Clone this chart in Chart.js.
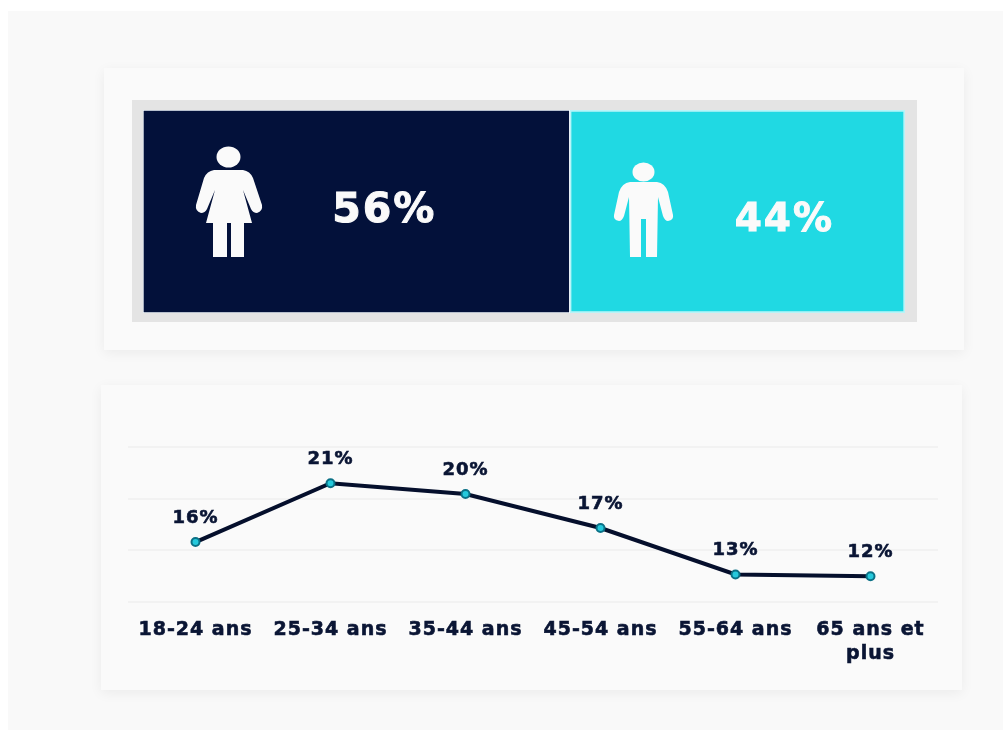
<!DOCTYPE html>
<html lang="fr">
<head>
<meta charset="utf-8">
<title>Répartition par sexe et par âge</title>
<script src="https://cdn.jsdelivr.net/npm/chart.js@4"></script>
<style>
html, body { margin: 0; padding: 0; background: #fff; }
body { position: relative; width: 1003px; height: 742px; overflow: hidden; }
#bg { position: absolute; left: 8px; top: 11px; width: 995px; height: 719px; background: #f9f9f9; }
.card { position: absolute; background: #fafafa; box-shadow: 0 3px 12px rgba(0,0,0,0.06); }
#card1 { left: 104px; top: 68px; width: 860px; height: 282px; }
#card2 { left: 101px; top: 385px; width: 861px; height: 305px; }
#frame { position: absolute; left: 132px; top: 100px; width: 785px; height: 222px; background: #e4e4e4; }
canvas { position: absolute; }
svg { position: absolute; }
</style>
</head>
<body>
<div id="bg"></div>
<div class="card" id="card1"></div>
<div class="card" id="card2"></div>
<div id="frame"></div>
<canvas id="genderChart" width="764" height="205" style="left:142px;top:109px"></canvas>
<canvas id="ageChart" width="861" height="305" style="left:101px;top:385px"></canvas>

<svg style="left:190px;top:140px" width="80" height="125" viewBox="0 0 80 125">
  <ellipse cx="38.5" cy="17" rx="12" ry="10.5" fill="#fafafa"/>
  <path d="M24 30 L53 30 Q60 31 63 38 L72 65 Q73 71 67 73 Q63 73 61 69 L53 50 L62 83 L54 83 L54 117 L41 117 L41 83 L37 83 L37 117 L23 117 L23 83 L16 83 L25 50 L17 69 Q15 73 11 73 Q5 71 6 65 L14 38 Q17 31 24 30 Z" fill="#fafafa"/>
</svg>
<svg style="left:610px;top:155px" width="70" height="110" viewBox="0 0 70 110">
  <ellipse cx="33.5" cy="17" rx="11" ry="9.5" fill="#fafafa"/>
  <path d="M20 27 L47 27 Q55 28 58 37 L63 60 Q64 65 58 66 Q55 66 53 61 L48 42 L47 102 L36 102 L36 64 L31 64 L31 102 L20 102 L19 42 L14 61 Q12 66 9 66 Q3 65 4 60 L9 37 Q12 28 20 27 Z" fill="#fafafa"/>
</svg>

<script>
const genderLabels = ['56%', '44%'];
const genderNames = ['Femmes', 'Hommes'];
const genderValues = [56, 44];

const ageLabels = ['18-24 ans', '25-34 ans', '35-44 ans', '45-54 ans', '55-64 ans', ['65 ans et', 'plus']];
const ageValues = [15.8, 21.49, 20.45, 17.16, 12.66, 12.49];
const ageValueLabels = ['16%', '21%', '20%', '17%', '13%', '12%'];

const fontName = '"DejaVu Sans", sans-serif';
const navy = '#03113a';
const textNavy = '#0a1534';
const cyan = '#20d9e3';

// text over the two bar parts, shifted from the centre of each part
const genderTextPlugin = {
    id: 'genderText',
    afterDatasetsDraw(chart) {
        const c = chart.ctx;
        const shift = [{x: 28, y: 0}, {x: 47, y: 9}];
        const size = [41, 39];
        chart.data.datasets.forEach((ds, i) => {
            const bar = chart.getDatasetMeta(i).data[0];
            const mid = (bar.base + bar.x) / 2;
            c.save();
            c.fillStyle = '#fafafa';
            c.strokeStyle = '#fafafa';
            c.lineWidth = 1;
            c.font = '700 ' + size[i] + 'px ' + fontName;
            c.letterSpacing = '2px';
            c.textAlign = 'center';
            c.textBaseline = 'middle';
            c.fillText(genderLabels[i], mid + shift[i].x, bar.y + shift[i].y);
            c.strokeText(genderLabels[i], mid + shift[i].x, bar.y + shift[i].y);
            c.restore();
        });
    }
};

const ageTextPlugin = {
    id: 'ageText',
    beforeDraw(chart) {
        // wider tick text, the font of the picture is not installed
        chart.ctx.letterSpacing = '1px';
    },
    afterDatasetsDraw(chart) {
        const c = chart.ctx;
        chart.getDatasetMeta(0).data.forEach((pt, i) => {
            c.save();
            c.fillStyle = textNavy;
            c.strokeStyle = textNavy;
            c.lineWidth = 0.6;
            c.font = '700 18px ' + fontName;
            c.letterSpacing = '1px';
            c.textAlign = 'center';
            c.textBaseline = 'middle';
            c.fillText(ageValueLabels[i], pt.x, pt.y - 24);
            c.strokeText(ageValueLabels[i], pt.x, pt.y - 24);
            c.restore();
        });
    }
};

new Chart(document.getElementById('genderChart'), {
    type: 'bar',
    plugins: [genderTextPlugin],
    data: {
        labels: [''],
        datasets: [
            {
                label: genderNames[0],
                data: [genderValues[0]],
                backgroundColor: navy,
                borderColor: '#f4fbff',
                borderWidth: 1,
                borderSkipped: false,
                categoryPercentage: 1,
                barPercentage: 1
            },
            {
                label: genderNames[1],
                data: [genderValues[1]],
                backgroundColor: cyan,
                borderColor: '#b8f4f8',
                borderWidth: 2,
                borderSkipped: false,
                categoryPercentage: 1,
                barPercentage: 1
            }
        ]
    },
    options: {
        indexAxis: 'y',
        responsive: false,
        animation: false,
        layout: { padding: 1 },
        plugins: { legend: { display: false }, tooltip: { enabled: false } },
        scales: {
            x: { stacked: true, display: false, min: 0, max: 100 },
            y: { stacked: true, display: false }
        }
    }
});

new Chart(document.getElementById('ageChart'), {
    type: 'line',
    plugins: [ageTextPlugin],
    data: {
        labels: ageLabels,
        datasets: [{
            label: 'Âge',
            data: ageValues,
            borderColor: '#050f2c',
            borderWidth: 4,
            tension: 0,
            pointRadius: 4,
            pointBorderWidth: 2,
            pointBackgroundColor: '#25c9dc',
            pointBorderColor: '#0b7186'
        }]
    },
    options: {
        responsive: false,
        animation: false,
        layout: { padding: { left: 27, right: 24, top: 62, bottom: 0 } },
        plugins: { legend: { display: false }, tooltip: { enabled: false } },
        scales: {
            x: {
                offset: true,
                grid: { display: false },
                border: { display: false },
                afterFit(scale) { scale.height = 88; },
                ticks: {
                    color: textNavy,
                    textStrokeColor: textNavy,
                    textStrokeWidth: 0.6,
                    font: { family: fontName, size: 19, weight: '700', lineHeight: 1.26 },
                    padding: 8,
                    autoSkip: false,
                    maxRotation: 0
                }
            },
            y: {
                min: 10,
                max: 25,
                afterFit(scale) { scale.width = 0; },
                grid: { color: '#f2f2f2', lineWidth: 2, drawTicks: false },
                border: { display: false },
                ticks: { display: false, stepSize: 5 }
            }
        }
    }
});
</script>
</body>
</html>
